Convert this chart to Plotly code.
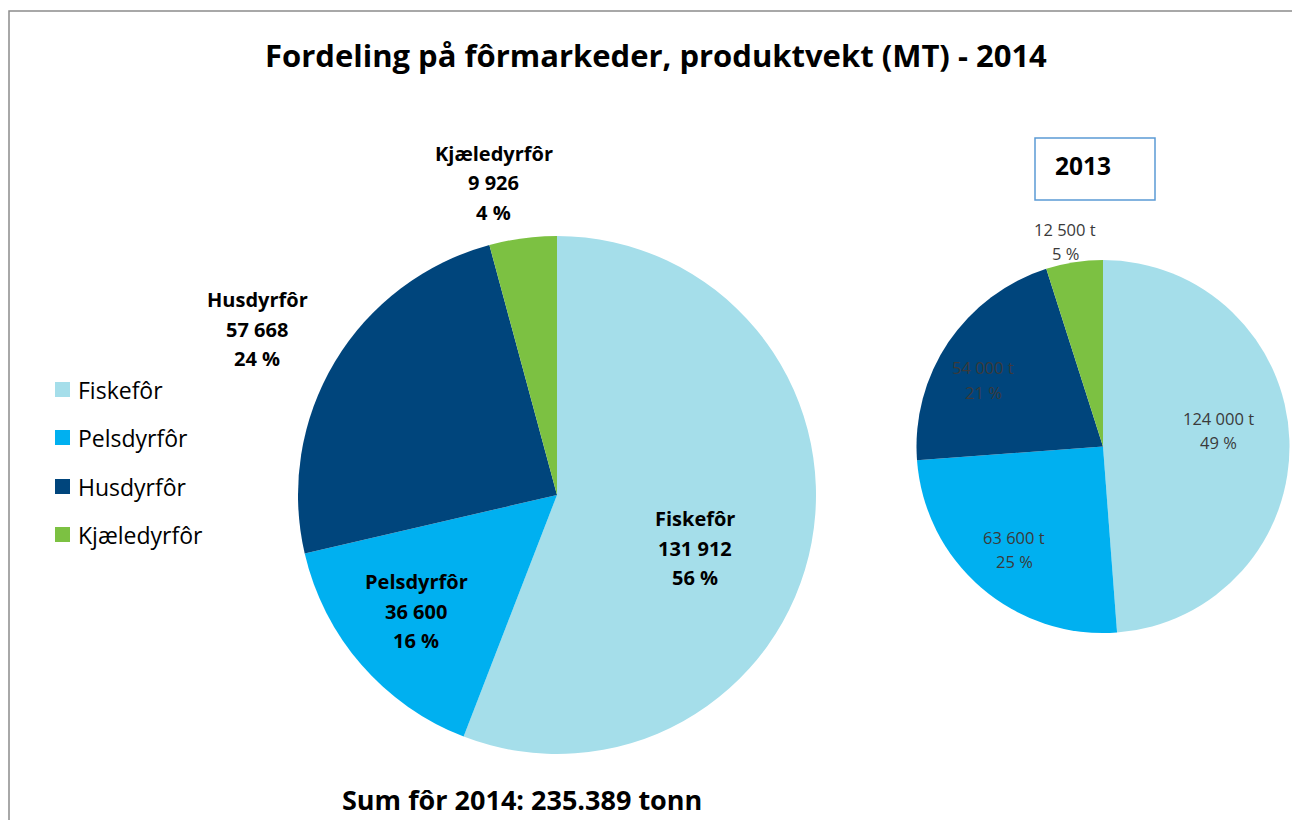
import plotly.graph_objects as go

# Feed market categories
categories = ["Fiskefôr", "Pelsdyrfôr", "Husdyrfôr", "Kjæledyrfôr"]
colors = ["#A5DEEA", "#00B0F0", "#00457C", "#7CC142"]

# Product weight (tonnes)
values_2014 = [131912, 36600, 57668, 9926]
values_2013 = [124000, 63600, 54000, 12500]

title_text = "Fordeling på fôrmarkeder, produktvekt (MT) - 2014"
sum_text = "Sum fôr 2014: 235.389 tonn"
inset_title = "2013"

W, H = 1292, 820
FONT = "Open Sans"


def px(x):
    return x / W


def py(y):
    return 1 - y / H


def fmt_num(v):
    return f"{v:,}".replace(",", " ")


def pct(values):
    total = sum(values)
    return [round(100 * v / total) for v in values]


fig = go.Figure()

fig.add_trace(go.Pie(
    labels=categories, values=values_2014, sort=False, direction="clockwise",
    rotation=0, marker=dict(colors=colors, line=dict(width=0)),
    textinfo="none", hoverinfo="label+value+percent", showlegend=False,
    domain=dict(x=[px(298), px(816)], y=[py(754), py(236)]),
))

fig.add_trace(go.Pie(
    labels=categories, values=values_2013, sort=False, direction="clockwise",
    rotation=0, marker=dict(colors=colors, line=dict(width=0)),
    textinfo="none", hoverinfo="label+value+percent", showlegend=False,
    domain=dict(x=[px(915), px(1291)], y=[py(633), py(260)]),
))

annotations = []
shapes = []


def add_text(x, y, text, size, color="#000000", anchor="center"):
    annotations.append(dict(x=px(x), y=py(y), text=text, showarrow=False,
                            xref="paper", yref="paper", xanchor=anchor, yanchor="middle",
                            font=dict(family=FONT, size=size, color=color)))


def add_lines(x, y_mid, lines, size, spacing, color="#000000"):
    n = len(lines)
    for i, line in enumerate(lines):
        add_text(x, y_mid + (i - (n - 1) / 2) * spacing, line, size, color)


# Title
add_text(656, 55, f"<b>{title_text}</b>", 31)

# Data labels for the 2014 pie (bold, category / value / share)
label_pos_2014 = [(695, 548), (416, 611), (257, 329), (494, 183)]
p14 = pct(values_2014)
for cat, v, p, (x, y) in zip(categories, values_2014, p14, label_pos_2014):
    add_lines(x, y, [f"<b>{cat}</b>", f"<b>{fmt_num(v)}</b>", f"<b>{p} %</b>"], 20, 29.5)

# Data labels for the 2013 pie
label_pos_2013 = [(1218, 430), (1014, 549), (983, 380), (1065, 241)]
p13 = pct(values_2013)
for v, p, (x, y) in zip(values_2013, p13, label_pos_2013):
    add_lines(x, y, [f"{fmt_num(v)} t", f"{p} %"], 16.5, 24, color="#3A3A3A")

# Legend
legend_y = [390, 438, 487, 535]
for cat, col, y in zip(categories, colors, legend_y):
    shapes.append(dict(type="rect", xref="paper", yref="paper",
                       x0=px(55), x1=px(70), y0=py(y + 7), y1=py(y - 8),
                       fillcolor=col, line=dict(width=0)))
    add_text(76, y, cat, 23, anchor="left")

# 2013 inset label box
shapes.append(dict(type="rect", xref="paper", yref="paper",
                   x0=px(1035), x1=px(1155), y0=py(200), y1=py(138),
                   fillcolor="rgba(0,0,0,0)", line=dict(color="#5B9BD5", width=1.5)))
add_text(1053, 166, f"<b>{inset_title}</b>", 24.5, anchor="left")

# Sum
add_text(522, 799, f"<b>{sum_text}</b>", 27)

# Chart area border
shapes.append(dict(type="rect", xref="paper", yref="paper",
                   x0=px(9), x1=px(1310), y0=py(840), y1=py(11),
                   fillcolor="rgba(0,0,0,0)", line=dict(color="#8C8C8C", width=1.5),
                   layer="below"))

fig.update_layout(
    width=W, height=H, margin=dict(l=0, r=0, t=0, b=0),
    paper_bgcolor="#FFFFFF", plot_bgcolor="#FFFFFF",
    annotations=annotations, shapes=shapes, showlegend=False,
)

fig.write_html("out.html")
